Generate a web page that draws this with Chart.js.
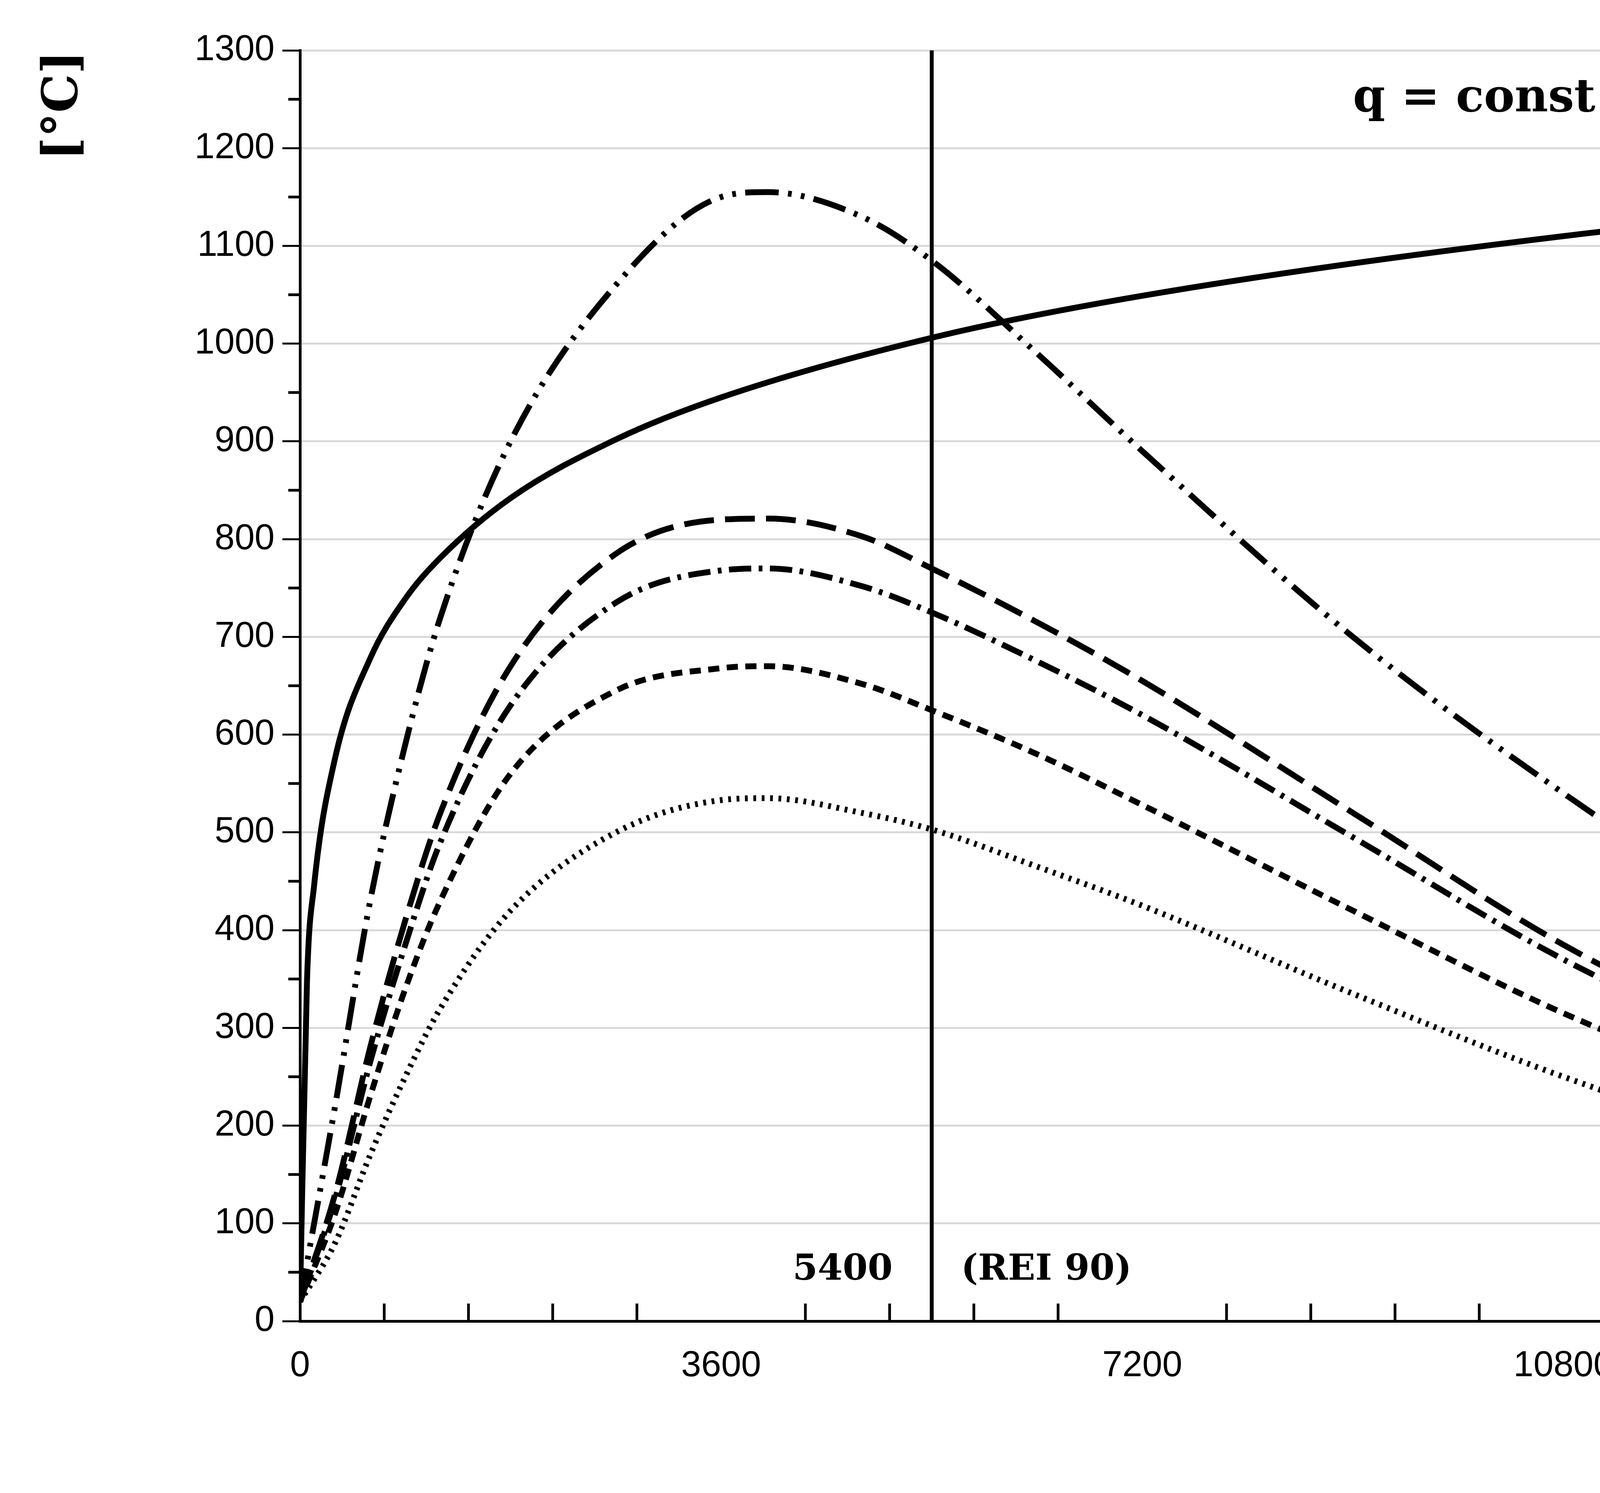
<!DOCTYPE html>
<html>
<head>
<meta charset="utf-8">
<script src="https://cdn.jsdelivr.net/npm/chart.js@4.4.1/dist/chart.umd.min.js"></script>
<style>
  html, body { margin: 0; padding: 0; background: #fff; overflow: hidden; }
  canvas { display: block; width: 7480px; height: 3822px; }
</style>
</head>
<body>
<canvas id="fire" width="7480" height="3822"></canvas>
<script>
// values (time in s, temperature in °C)
const tEN = [0, 60, 120, 300, 600, 900, 1200, 1800, 2700, 3600, 5400, 7200, 10800, 14400, 18000, 20700];
const yEN = [20, 349, 445, 576, 678, 739, 781, 842, 902, 945, 1006, 1049, 1110, 1153, 1186, 1203];

const tCurve = [0, 300, 600, 900, 1200, 1800, 2700, 3600, 4000, 4800, 5400, 6300, 7200, 9000, 10800, 12600, 14400, 16200, 18000, 19800, 21600];
const yTypeA = [20, 110, 230, 340, 430, 560, 645, 668, 670, 652, 625, 580, 528, 420, 315, 230, 165, 118, 84, 60, 43];
const yTypeB = [20, 80, 170, 250, 320, 420, 500, 533, 535, 520, 503, 465, 425, 335, 250, 180, 128, 92, 65, 47, 34];
const yTypeC = [20, 130, 280, 410, 520, 670, 785, 820, 821, 803, 770, 715, 655, 520, 385, 280, 200, 145, 100, 70, 50];
const yTypeD = [20, 125, 265, 385, 490, 630, 735, 768, 770, 752, 725, 675, 620, 495, 370, 270, 190, 135, 95, 65, 46];
const yTypeE = [20, 220, 430, 590, 720, 900, 1060, 1150, 1155, 1130, 1085, 990, 890, 700, 540, 400, 290, 205, 145, 100, 68];

const labels = ['EN 1991-1-4', 'Curve A (Building Type A)', 'Curve A (Building Type B)',
  'Curve A (Building Type C)', 'Curve A (Building Type D)', 'Curve A (Building Type E)'];

const S = 4.77;
const dashes = [[], [6*S, 4*S], [1.5*S, 3*S], [16*S, 6*S], [12*S, 4*S, 2*S, 4*S], [18*S, 5*S, 2*S, 5*S, 2*S, 5*S]];

function pts(t, y) { return t.map((v, i) => ({ x: v, y: y[i] })); }

const series = [pts(tEN, yEN), pts(tCurve, yTypeA), pts(tCurve, yTypeB), pts(tCurve, yTypeC), pts(tCurve, yTypeD), pts(tCurve, yTypeE)];

const extras = {
  id: 'extras',
  afterDraw(chart) {
    const c = chart.ctx, xs = chart.scales.x, ys = chart.scales.y, a = chart.chartArea;
    c.save();
    c.strokeStyle = '#000'; c.lineWidth = 7;
    // minor ticks
    for (let v = 720; v < 21600; v += 720) {
      if (v % 3600 === 0) continue;
      const px = xs.getPixelForValue(v);
      c.beginPath(); c.moveTo(px, a.bottom); c.lineTo(px, a.bottom - 45); c.stroke();
    }
    for (let v = 50; v < 1300; v += 100) {
      const py = ys.getPixelForValue(v);
      c.beginPath(); c.moveTo(a.left, py); c.lineTo(a.left - 30, py); c.stroke();
    }
    // REI 90 line
    const x54 = xs.getPixelForValue(5400);
    c.lineWidth = 10;
    c.beginPath(); c.moveTo(x54, a.top); c.lineTo(x54, a.bottom); c.stroke();
    c.fillStyle = '#000';
    c.font = 'bold 92px "DejaVu Serif"';
    c.textBaseline = 'middle';
    const y40 = ys.getPixelForValue(52);
    c.textAlign = 'right'; c.fillText('5400', x54 - 100, y40);
    c.textAlign = 'left'; c.fillText('(REI 90)', x54 + 75, y40);
    c.font = 'bold 118px "DejaVu Serif"';
    c.textAlign = 'left';
    c.fillText('q = const', xs.getPixelForValue(9000), ys.getPixelForValue(1250));
    c.fillText('O = const', xs.getPixelForValue(12650), ys.getPixelForValue(1250));
    // axis titles
    c.font = 'bold 125px "DejaVu Serif"';
    c.textAlign = 'right';
    c.fillText('[s]', 7410, 3705);
    c.save();
    c.translate(165, 130); c.rotate(-Math.PI / 2);
    c.textAlign = 'right'; c.fillText('[°C]', 0, 0);
    c.restore();
    // legend
    const lx = 5061, ly = 873, lw = 1966, lh = 1254;
    c.fillStyle = '#fff'; c.fillRect(lx, ly, lw, lh);
    c.lineWidth = 4; c.strokeStyle = '#000'; c.strokeRect(lx, ly, lw, lh);
    c.font = '88px "DejaVu Serif"';
    c.textAlign = 'left';
    labels.forEach((lab, i) => {
      const ry = (207 + 44 * i) * S;
      c.strokeStyle = '#000'; c.lineWidth = 15; c.setLineDash(dashes[i]);
      c.beginPath(); c.moveTo(5320, ry); c.lineTo(5545, ry); c.stroke();
      c.setLineDash([]);
      c.fillStyle = '#595959';
      c.fillText(lab, 5557, ry);
    });
    c.restore();
  }
};

new Chart(document.getElementById('fire'), {
  type: 'line',
  data: {
    datasets: series.map((d, i) => ({
      label: labels[i],
      data: d,
      borderColor: '#000',
      borderWidth: 15,
      borderDash: dashes[i],
      pointRadius: 0,
      cubicInterpolationMode: 'monotone',
      fill: false
    }))
  },
  options: {
    responsive: false,
    devicePixelRatio: 1,
    animation: false,
    layout: { padding: { top: 129, right: 243, left: 0, bottom: 0 } },
    plugins: { legend: { display: false }, tooltip: { enabled: false } },
    scales: {
      x: {
        type: 'linear', min: 0, max: 21600,
        afterFit(s) { s.height = 3822 - 3382; },
        ticks: { stepSize: 3600, color: '#000', font: { size: 92, family: '"Liberation Sans"' }, padding: 20, maxRotation: 0, callback: v => String(v) },
        grid: { display: false, drawTicks: true, tickLength: 40, tickColor: '#000', tickWidth: 7 },
        border: { color: '#000', width: 7 }
      },
      y: {
        min: 0, max: 1300,
        afterFit(s) { s.width = 768; },
        ticks: { stepSize: 100, color: '#000', font: { size: 92, family: '"Liberation Sans"' }, padding: 20, callback: v => String(v) },
        grid: { color: '#d9d9d9', lineWidth: 5, tickLength: 45, tickColor: '#000' },
        border: { color: '#000', width: 7 }
      }
    }
  },
  plugins: [extras]
});
</script>
</body>
</html>
